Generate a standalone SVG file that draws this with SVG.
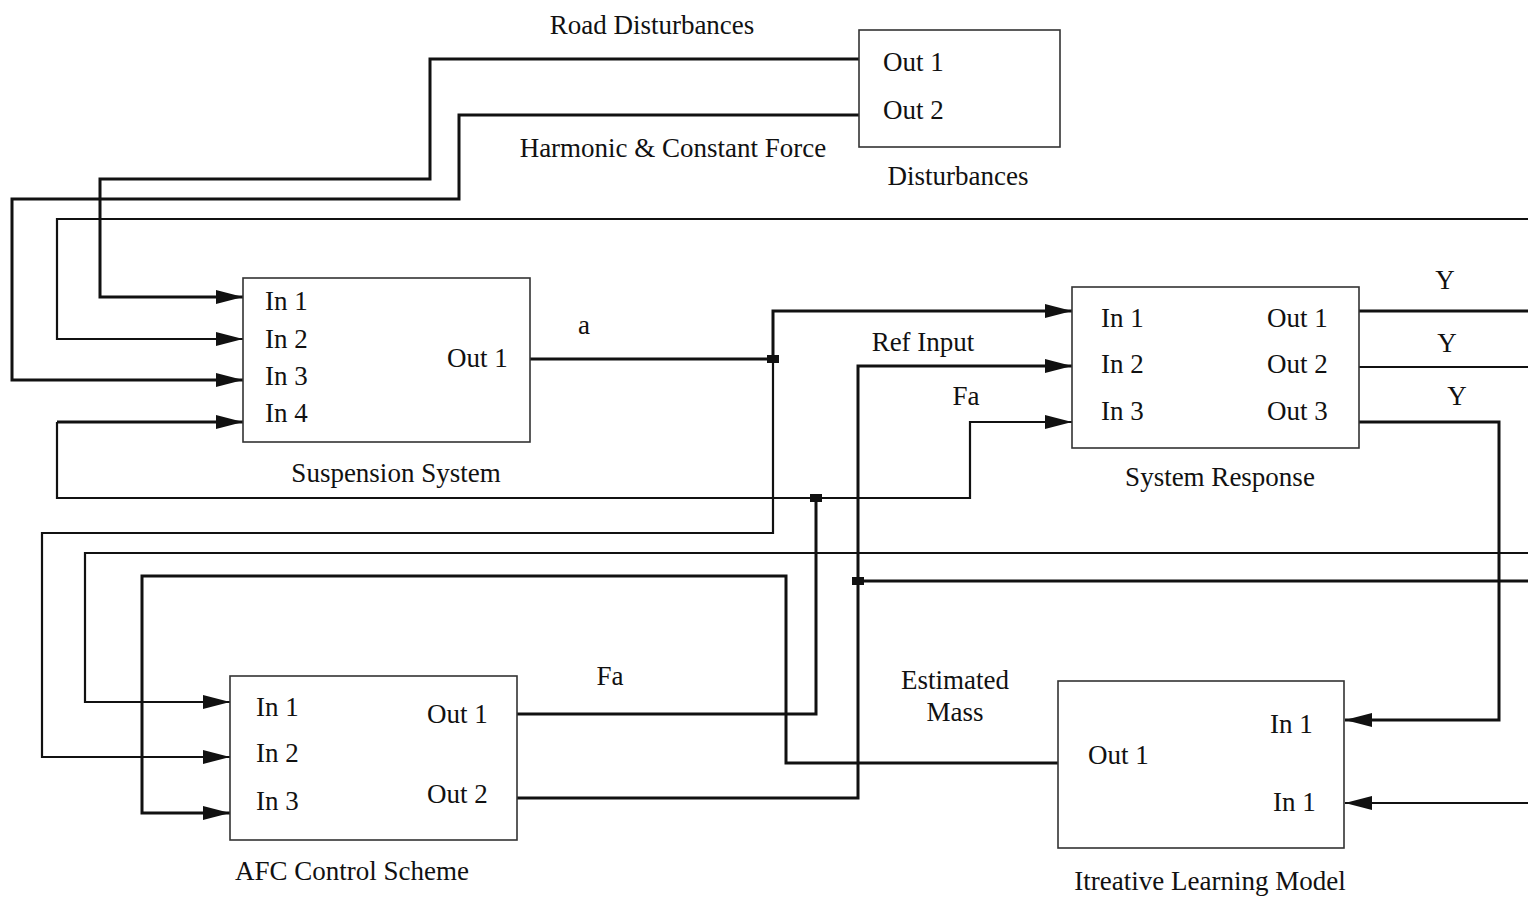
<svg xmlns="http://www.w3.org/2000/svg" width="1528" height="899" viewBox="0 0 1528 899">
<style>
text{font-family:"Liberation Serif","Times New Roman",serif;font-size:27px;fill:#111}
.c{text-anchor:middle}
.box{fill:none;stroke:#333;stroke-width:1.6}
.w{fill:none;stroke:#111;stroke-width:3}
.t{fill:none;stroke:#111;stroke-width:2.2}
</style>
<defs>
<marker id="ar" markerUnits="userSpaceOnUse" markerWidth="28" markerHeight="16" refX="27" refY="8" orient="auto">
<path d="M0,1 L27,8 L0,15 Z" fill="#111"/>
</marker>
</defs>
<rect width="1528" height="899" fill="#fff"/>
<g id="connectors">
<path class="w" d="M859,59 H430 V179 H100 V297 H243" marker-end="url(#ar)"/>
<path class="w" d="M859,115 H459 V199 H12 V380 H243" marker-end="url(#ar)"/>
<path class="t" d="M1528,219 H57 V339 H243" marker-end="url(#ar)"/>
<path class="w" d="M57,422 H243" marker-end="url(#ar)"/>
<path class="t" d="M57,422 V498 H970 V422 H1072" marker-end="url(#ar)"/>
<path class="w" d="M530,359 H773"/>
<path class="w" d="M773,359 V311 H1072" marker-end="url(#ar)"/>
<path class="t" d="M773,359 V533 H42 V757 H230" marker-end="url(#ar)"/>
<path class="w" d="M517,714 H816 V498"/>
<path class="w" d="M517,798 H858 V366 H1072" marker-end="url(#ar)"/>
<path class="w" d="M858,581 H1528"/>
<path class="t" d="M1528,553 H85 V702 H230" marker-end="url(#ar)"/>
<path class="w" d="M1058,763 H786 V576 H142 V813 H230" marker-end="url(#ar)"/>
<path class="w" d="M1359,311 H1528"/>
<path class="t" d="M1359,367 H1528"/>
<path class="w" d="M1359,422 H1499 V720 H1345" marker-end="url(#ar)"/>
<path class="t" d="M1528,803 H1345" marker-end="url(#ar)"/>
<rect x="767" y="355" width="12" height="8" fill="#111"/>
<rect x="810" y="494" width="12" height="8" fill="#111"/>
<rect x="852" y="577" width="12" height="8" fill="#111"/>
</g>
<g id="disturbances">
<rect class="box" x="859" y="30" width="201" height="117"/>
<text x="883" y="71">Out 1</text>
<text x="883" y="119">Out 2</text>
<text class="c" x="958" y="185">Disturbances</text>
</g>
<g id="suspension-system">
<rect class="box" x="243" y="278" width="287" height="164"/>
<text x="265" y="310">In 1</text>
<text x="265" y="348">In 2</text>
<text x="265" y="385">In 3</text>
<text x="265" y="422">In 4</text>
<text x="447" y="367">Out 1</text>
<text class="c" x="396" y="482">Suspension System</text>
</g>
<g id="system-response">
<rect class="box" x="1072" y="287" width="287" height="161"/>
<text x="1101" y="327">In 1</text>
<text x="1101" y="373">In 2</text>
<text x="1101" y="420">In 3</text>
<text x="1267" y="327">Out 1</text>
<text x="1267" y="373">Out 2</text>
<text x="1267" y="420">Out 3</text>
<text class="c" x="1220" y="486">System Response</text>
</g>
<g id="afc-control-scheme">
<rect class="box" x="230" y="676" width="287" height="164"/>
<text x="256" y="716">In 1</text>
<text x="256" y="762">In 2</text>
<text x="256" y="810">In 3</text>
<text x="427" y="723">Out 1</text>
<text x="427" y="803">Out 2</text>
<text class="c" x="352" y="880">AFC Control Scheme</text>
</g>
<g id="iterative-learning-model">
<rect class="box" x="1058" y="681" width="286" height="167"/>
<text x="1088" y="764">Out 1</text>
<text x="1270" y="733">In 1</text>
<text x="1273" y="811">In 1</text>
<text class="c" x="1210" y="890">Itreative Learning Model</text>
</g>
<g id="labels">
<text class="c" x="652" y="34">Road Disturbances</text>
<text class="c" x="673" y="157">Harmonic &amp; Constant Force</text>
<text class="c" x="584" y="334">a</text>
<text class="c" x="923" y="351">Ref Input</text>
<text class="c" x="966" y="405">Fa</text>
<text class="c" x="610" y="685">Fa</text>
<text class="c" x="955" y="689">Estimated</text>
<text class="c" x="955" y="721">Mass</text>
<text class="c" x="1445" y="289">Y</text>
<text class="c" x="1447" y="352">Y</text>
<text class="c" x="1457" y="405">Y</text>
</g>
</svg>
